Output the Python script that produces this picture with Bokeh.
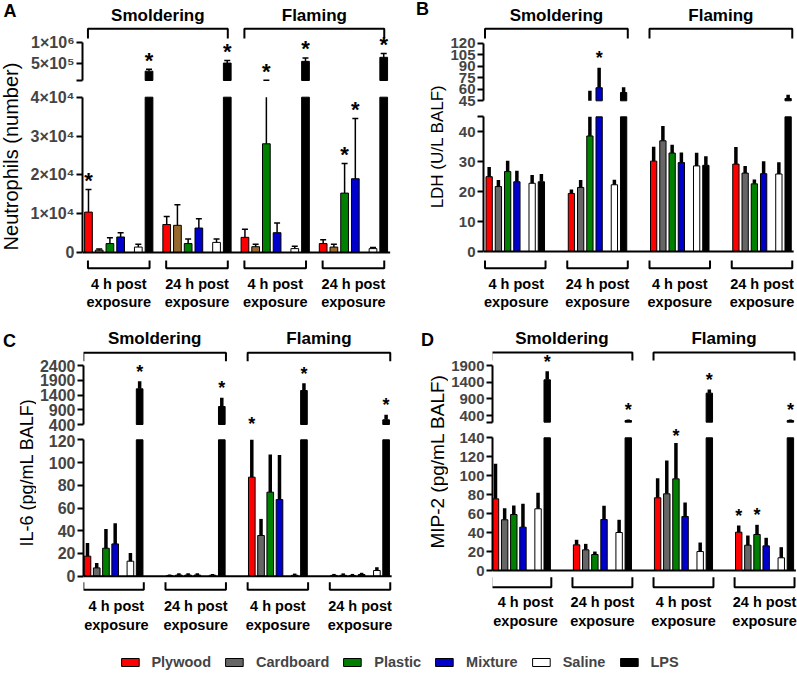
import math
from bokeh.plotting import figure
from bokeh.models import (Range1d, LinearAxis, FixedTicker, ColumnDataSource,
                          Legend, LegendItem)
from bokeh.layouts import column, row
from bokeh.embed import file_html
from bokeh.resources import INLINE
from bokeh.core.properties import value

FONT = "Liberation Sans"

# ---------------- data ----------------
materials = ["Plywood", "Cardboard", "Plastic", "Mixture", "Saline", "LPS"]
combustion = ["Smoldering", "Flaming"]
time_line1 = ["4 h post", "24 h post", "4 h post", "24 h post"]
time_line2 = ["exposure", "exposure", "exposure", "exposure"]
colors = ["#FF0000", "#666666", "#008000", "#0000CC", "#FFFFFF", "#000000"]
colors_neut = ["#FF0000", "#97692F", "#008000", "#0000CC", "#FFFFFF", "#000000"]

# groups: smoldering 4 h, smoldering 24 h, flaming 4 h, flaming 24 h
neut_mean = [
    [10400, 600, 2300, 4000, 1400, 320000],
    [7200, 7000, 2300, 6300, 2600, 510000],
    [3900, 1500, 28000, 5100, 1000, 550000],
    [2300, 1400, 15300, 19000, 1000, 645000],
]
neut_err = [
    [5800, 300, 1500, 1100, 700, 45000],
    [2100, 5300, 1200, 2400, 900, 60000],
    [2100, 600, 77000, 2500, 600, 80000],
    [1000, 700, 7600, 15500, 300, 90000],
]
neut_sig = [
    [1, 0, 0, 0, 0, 1],
    [0, 0, 0, 0, 0, 1],
    [0, 0, 1, 0, 0, 1],
    [0, 0, 1, 1, 0, 1],
]
neut_low_ticks = [0, 10000, 20000, 30000, 40000]
neut_low_labels = ["0", "1×10⁴", "2×10⁴", "3×10⁴", "4×10⁴"]
neut_up_ticks = [100000, 500000, 1000000]
neut_up_labels = ["", "5×10⁵", "1×10⁶"]

ldh_mean = [
    [25.0, 21.7, 26.7, 23.3, 22.8, 23.3],
    [19.4, 21.4, 38.6, 62.0, 22.3, 55.8],
    [30.2, 37.0, 32.9, 29.7, 28.6, 28.8],
    [29.2, 26.2, 22.6, 26.0, 25.9, 48.0],
]
ldh_err = [
    [3.2, 2.2, 3.6, 3.7, 2.8, 2.6],
    [1.3, 2.5, 19.4, 26.0, 1.7, 6.9],
    [4.8, 4.9, 2.8, 3.4, 4.4, 3.0],
    [5.7, 2.4, 1.5, 4.2, 3.9, 5.0],
]
ldh_sig = [
    [0, 0, 0, 0, 0, 0],
    [0, 0, 0, 1, 0, 0],
    [0, 0, 0, 0, 0, 0],
    [0, 0, 0, 0, 0, 0],
]
ldh_low_ticks = [0, 10, 20, 30, 40, 45]
ldh_low_labels = ["0", "10", "20", "30", "40", ""]
ldh_up_ticks = [45, 60, 75, 90, 105, 120]
ldh_up_labels = ["45", "60", "75", "90", "105", "120"]

il6_mean = [
    [17.6, 7.3, 24.6, 28.4, 13.2, 1609],
    [0.5, 1.0, 1.0, 1.0, 0.8, 1010],
    [87.1, 35.8, 73.9, 67.4, 0.8, 1552],
    [0.7, 0.8, 0.5, 1.5, 5.0, 558],
]
il6_err = [
    [11.7, 4.4, 17.0, 18.2, 7.3, 260],
    [1.0, 1.5, 1.5, 1.5, 1.2, 294],
    [43.0, 14.6, 33.1, 39.3, 1.5, 249],
    [1.3, 1.7, 1.5, 1.5, 2.9, 170],
]
il6_sig = [
    [0, 0, 0, 0, 0, 1],
    [0, 0, 0, 0, 0, 1],
    [1, 0, 0, 0, 0, 1],
    [0, 0, 0, 0, 0, 1],
]
il6_low_ticks = [0, 20, 40, 60, 80, 100, 120]
il6_low_labels = ["0", "20", "40", "60", "80", "100", "120"]
il6_up_ticks = [400, 900, 1400, 1900, 2400]
il6_up_labels = ["400", "900", "1400", "1900", "2400"]

mip_mean = [
    [75.6, 53.5, 59.1, 45.7, 65.1, 1470],
    [27.1, 21.8, 16.9, 53.8, 40.1, 250],
    [76.7, 80.9, 96.7, 57.0, 20.0, 1070],
    [40.4, 26.7, 38.0, 26.0, 13.4, 250],
]
mip_err = [
    [37.0, 12.3, 9.5, 24.6, 16.9, 260],
    [5.3, 6.3, 3.1, 14.4, 13.4, 30],
    [20.7, 35.1, 37.7, 14.8, 9.5, 110],
    [7.1, 10.2, 10.2, 8.5, 11.2, 30],
]
mip_sig = [
    [0, 0, 0, 0, 0, 1],
    [0, 0, 0, 0, 0, 1],
    [0, 0, 1, 0, 0, 1],
    [1, 0, 1, 0, 0, 1],
]
mip_low_ticks = [0, 20, 40, 60, 80, 100, 120, 140]
mip_low_labels = ["0", "20", "40", "60", "80", "100", "120", "140"]
mip_up_ticks = [200, 400, 900, 1400, 1900]
mip_up_labels = ["", "400", "900", "1400", "1900"]

# ---------------- layout constants (page pixels) ----------------
SLOTS = [0.0, 1.0, 2.0, 3.0, 4.65, 5.65]

LAY_A = dict(x0=0, y0=0, W=400, H=320, title_w=27, split=86,
             axis=81, first=87, unit=10.75, step=7.3,
             low=(0, 252, 40000, 96.7), up=(100000, 80, 1000000, 41.7),
             bar_w=0.72, err_w=1.5, caps=True, star_size="22px", star_gap=9,
             br_pad=(0.05, 0.05), top_y=28.3, top_drop=38, top_text=15,
             bot_y=267.7, bot_up=260, bot_text=(283, 301.7),
             ylab=(10, 156), ylab_size="20px", letter=(9.5, 10), tick_size="16px")
LAY_B = dict(x0=400, y0=0, W=397, H=320, title_w=47, split=111,
             axis=481, first=486.7, unit=9.3, step=8.9,
             low=(0, 251, 40, 131.3), up=(45, 100.3, 120, 42.7),
             bar_w=0.68, err_w=3.5, caps=False, star_size="18px", star_gap=9.5,
             br_pad=(0.45, 0.45), top_y=28.3, top_drop=38, top_text=15,
             bot_y=267.7, bot_up=260, bot_text=(283, 301.7),
             ylab=(437, 146), ylab_size="17px", letter=(422, 8.5), tick_size="15px")
LAY_C = dict(x0=0, y0=320, W=400, H=328, title_w=36, split=434,
             axis=81.5, first=86, unit=9.26, step=8.9,
             low=(0, 575.7, 120, 439.3), up=(400, 424, 2400, 365),
             bar_w=0.72, err_w=3.5, caps=False, star_size="18px", star_gap=9.5,
             br_pad=(0.45, 0.45), top_y=352.3, top_drop=360.7, top_text=338,
             bot_y=589.3, bot_up=581.7, bot_text=(605, 624),
             ylab=(26, 472), ylab_size="18px", letter=(9, 340), tick_size="16px")
LAY_D = dict(x0=400, y0=320, W=397, H=328, title_w=48, split=425,
             axis=491.7, first=495, unit=9.15, step=8.86,
             low=(0, 570, 140, 437.3), up=(400, 415, 1900, 365),
             bar_w=0.7, err_w=3.5, caps=False, star_size="18px", star_gap=9.5,
             br_pad=(0.45, 0.45), top_y=352, top_drop=360, top_text=338,
             bot_y=586.7, bot_up=576.7, bot_text=(601.7, 620),
             ylab=(436.7, 461), ylab_size="19px", letter=(427, 339), tick_size="15px")
LEGEND_H = 28
STAR_HALF = 10.5   # half of the star text box height, keeps stars inside their canvas


def lin_range(v0, p0, v1, p1, p_bottom, p_top):
    k = (v1 - v0) / (p1 - p0)
    return Range1d(start=v0 + (p_bottom - p0) * k, end=v0 + (p_top - p0) * k)


def to_px(anchor):
    v0, p0, v1, p1 = anchor
    return lambda v: p0 + (v - v0) * (p1 - p0) / (v1 - v0)


def blank_fig(**kw):
    p = figure(output_backend="svg", toolbar_location=None, x_axis_type=None,
               y_axis_type=None, min_border_right=0, min_border_top=0,
               min_border_bottom=0, outline_line_color=None, **kw)
    return p


def style_axis(a, L):
    a.axis_line_width = 2
    a.axis_line_color = "black"
    a.major_tick_line_width = 2
    a.major_tick_out = 6
    a.major_tick_in = 0
    a.minor_tick_line_color = None
    a.major_label_text_font = FONT
    a.major_label_text_font_style = "bold"
    a.major_label_text_font_size = L["tick_size"]
    a.major_label_standoff = 2


def make_panel(L, means, errs, sig, bar_colors, low_ticks, low_labels,
               up_ticks, up_labels, ylabel, letter):
    x0, y0, W, H = L["x0"], L["y0"], L["W"], L["H"]
    tw, split = L["title_w"], L["split"]
    unit, step, first = L["unit"], L["step"], L["first"]
    plot_left = x0 + tw
    mbl = int(round(L["axis"] - plot_left))
    axis_px = plot_left + mbl
    wp = W - tw
    bottom = y0 + H

    def px2x(px):
        return (px - first) / unit

    xr = Range1d(start=px2x(axis_px), end=px2x(x0 + W))
    low_max = low_ticks[-1]
    up_min = up_ticks[0]
    low_px = to_px(L["low"])
    up_px = to_px(L["up"])

    xs, vs, es, cs, ss = [], [], [], [], []
    for g in range(4):
        for s in range(6):
            xs.append(g * step + SLOTS[s])
            vs.append(means[g][s])
            es.append(errs[g][s])
            cs.append(bar_colors[s])
            ss.append(sig[g][s])
    n = len(xs)

    # star anchors in page pixels, above the (visible) top of each error bar
    star_x, star_y = [], []
    for i in range(n):
        if ss[i]:
            t = vs[i] + es[i]
            py = up_px(t) if t > up_min else low_px(min(t, low_max))
            py -= L["star_gap"]
            if split - STAR_HALF < py < split + STAR_HALF:
                py = split - STAR_HALF if py < split else split + STAR_HALF
            star_x.append(xs[i])
            star_y.append(py)
    star_kw = dict(text_align="center", text_baseline="middle",
                   text_font=value(FONT), text_font_style="bold",
                   text_font_size=L["star_size"], text_color="black", y_range_name="px")

    pa, pb = L["br_pad"]
    gx0 = [g * step + SLOTS[0] - pa for g in range(4)]
    gx1 = [g * step + SLOTS[5] + pb for g in range(4)]

    # ---------- upper (broken) segment ----------
    up = blank_fig(width=wp, height=split - y0, x_range=xr,
                   y_range=lin_range(*L["up"], split, y0), min_border_left=mbl)
    up.extra_y_ranges = {"px": Range1d(start=split, end=y0)}
    iu = [i for i in range(n) if vs[i] > up_min]
    up.vbar(x=[xs[i] for i in iu], top=[vs[i] for i in iu], bottom=up_min,
            width=L["bar_w"], fill_color=[cs[i] for i in iu], line_color="black",
            line_width=1)
    ie = [i for i in range(n) if vs[i] + es[i] > up_min]
    up.segment(x0=[xs[i] for i in ie], y0=[max(vs[i], up_min) for i in ie],
               x1=[xs[i] for i in ie], y1=[vs[i] + es[i] for i in ie],
               line_color="black", line_width=L["err_w"])
    if L["caps"]:
        up.scatter(x=[xs[i] for i in ie], y=[vs[i] + es[i] for i in ie], marker="dash",
                   size=6, line_color="black", line_width=1.5)
    ku = [k for k in range(len(star_y)) if star_y[k] < split]
    if ku:
        up.text(x=[star_x[k] for k in ku], y=[star_y[k] for k in ku],
                text=["*"] * len(ku), **star_kw)
    ua = LinearAxis(bounds=(up_ticks[0], up_ticks[-1]), ticker=FixedTicker(ticks=up_ticks),
                    major_label_overrides={t: lab for t, lab in zip(up_ticks, up_labels)})
    style_axis(ua, L)
    up.add_layout(ua, "left")
    ty, td = L["top_y"], L["top_drop"]
    up.multi_line(xs=[[gx0[2 * c], gx0[2 * c], gx1[2 * c + 1], gx1[2 * c + 1]] for c in range(2)],
                  ys=[[td, ty, ty, td] for c in range(2)], line_color="black",
                  line_width=2, y_range_name="px")
    up.text(x=[(gx0[2 * c] + gx1[2 * c + 1]) / 2 for c in range(2)], y=[L["top_text"]] * 2,
            text=combustion, text_align="center", text_baseline="middle",
            text_font=value(FONT), text_font_style="bold", text_font_size="17px",
            y_range_name="px")

    # ---------- lower segment ----------
    lo = blank_fig(width=wp, height=bottom - split, x_range=xr,
                   y_range=lin_range(*L["low"], bottom, split), min_border_left=mbl)
    lo.extra_y_ranges = {"px": Range1d(start=bottom, end=split)}
    lo.vbar(x=xs, top=[min(v, low_max) for v in vs], bottom=0, width=L["bar_w"],
            fill_color=cs, line_color="black", line_width=1)
    il = [i for i in range(n) if vs[i] < low_max]
    lo.segment(x0=[xs[i] for i in il], y0=[vs[i] for i in il],
               x1=[xs[i] for i in il], y1=[min(vs[i] + es[i], low_max) for i in il],
               line_color="black", line_width=L["err_w"])
    if L["caps"]:
        ic = [i for i in range(n) if vs[i] + es[i] <= low_max]
        lo.scatter(x=[xs[i] for i in ic], y=[vs[i] + es[i] for i in ic], marker="dash",
                   size=6, line_color="black", line_width=1.5)
    kl = [k for k in range(len(star_y)) if star_y[k] >= split]
    if kl:
        lo.text(x=[star_x[k] for k in kl], y=[star_y[k] for k in kl],
                text=["*"] * len(kl), **star_kw)
    x_end = 3 * step + SLOTS[5] + 0.6
    lo.segment(x0=[xr.start], y0=[0], x1=[x_end], y1=[0], line_color="black", line_width=2)
    la = LinearAxis(bounds=(low_ticks[0], low_ticks[-1]), ticker=FixedTicker(ticks=low_ticks),
                    major_label_overrides={t: lab for t, lab in zip(low_ticks, low_labels)})
    style_axis(la, L)
    lo.add_layout(la, "left")
    by, bu = L["bot_y"], L["bot_up"]
    lo.multi_line(xs=[[gx0[g], gx0[g], gx1[g], gx1[g]] for g in range(4)],
                  ys=[[bu, by, by, bu] for g in range(4)], line_color="black",
                  line_width=2, y_range_name="px")
    half_txt = 33.0 / unit
    centers = [max((gx0[g] + gx1[g]) / 2, xr.start + half_txt) for g in range(4)]
    t1, t2 = L["bot_text"]
    lo.text(x=centers * 2, y=[t1] * 4 + [t2] * 4,
            text=time_line1 + time_line2, text_align="center", text_baseline="middle",
            text_font=value(FONT), text_font_style="bold", text_font_size="14.5px",
            y_range_name="px")

    # ---------- axis title + panel letter ----------
    tf = blank_fig(width=tw, height=H, x_range=Range1d(x0, x0 + tw),
                   y_range=Range1d(bottom, y0), min_border_left=0)
    tf.text(x=[L["ylab"][0]], y=[L["ylab"][1]], text=[ylabel], angle=math.pi / 2,
            text_align="center", text_baseline="middle", text_font=value(FONT),
            text_font_size=L["ylab_size"], text_color="black")
    tf.text(x=[L["letter"][0]], y=[L["letter"][1]], text=[letter], text_align="center",
            text_baseline="middle", text_font=value(FONT), text_font_style="bold",
            text_font_size="18px", text_color="black")
    return row(tf, column(up, lo))


pA = make_panel(LAY_A, neut_mean, neut_err, neut_sig, colors_neut, neut_low_ticks,
                neut_low_labels, neut_up_ticks, neut_up_labels, "Neutrophils (number)", "A")
pB = make_panel(LAY_B, ldh_mean, ldh_err, ldh_sig, colors, ldh_low_ticks,
                ldh_low_labels, ldh_up_ticks, ldh_up_labels, "LDH (U/L BALF)", "B")
pC = make_panel(LAY_C, il6_mean, il6_err, il6_sig, colors, il6_low_ticks,
                il6_low_labels, il6_up_ticks, il6_up_labels, "IL-6 (pg/mL BALF)", "C")
pD = make_panel(LAY_D, mip_mean, mip_err, mip_sig, colors, mip_low_ticks,
                mip_low_labels, mip_up_ticks, mip_up_labels, "MIP-2 (pg/mL BALF)", "D")

# legend strip
leg = blank_fig(width=797, height=LEGEND_H, x_range=Range1d(0, 1), y_range=Range1d(0, 1),
                min_border_left=0)
nan = float("nan")
items = []
for name, col in zip(materials, colors):
    src = ColumnDataSource(dict(x=[nan], top=[nan]))
    r = leg.vbar(x="x", top="top", width=0.5, source=src, fill_color=col,
                 line_color="black", line_width=1)
    items.append(LegendItem(label=name, renderers=[r]))
legend = Legend(items=items, orientation="horizontal", location="center",
                glyph_width=22, glyph_height=10, label_standoff=11, spacing=12,
                label_text_font=FONT, label_text_font_style="bold",
                label_text_font_size="14.5px", border_line_color=None,
                background_fill_alpha=0, padding=0, margin=0)
leg.add_layout(legend)

layout = column(row(pA, pB), row(pC, pD), leg)
open("out.html", "w").write(file_html(layout, INLINE))
